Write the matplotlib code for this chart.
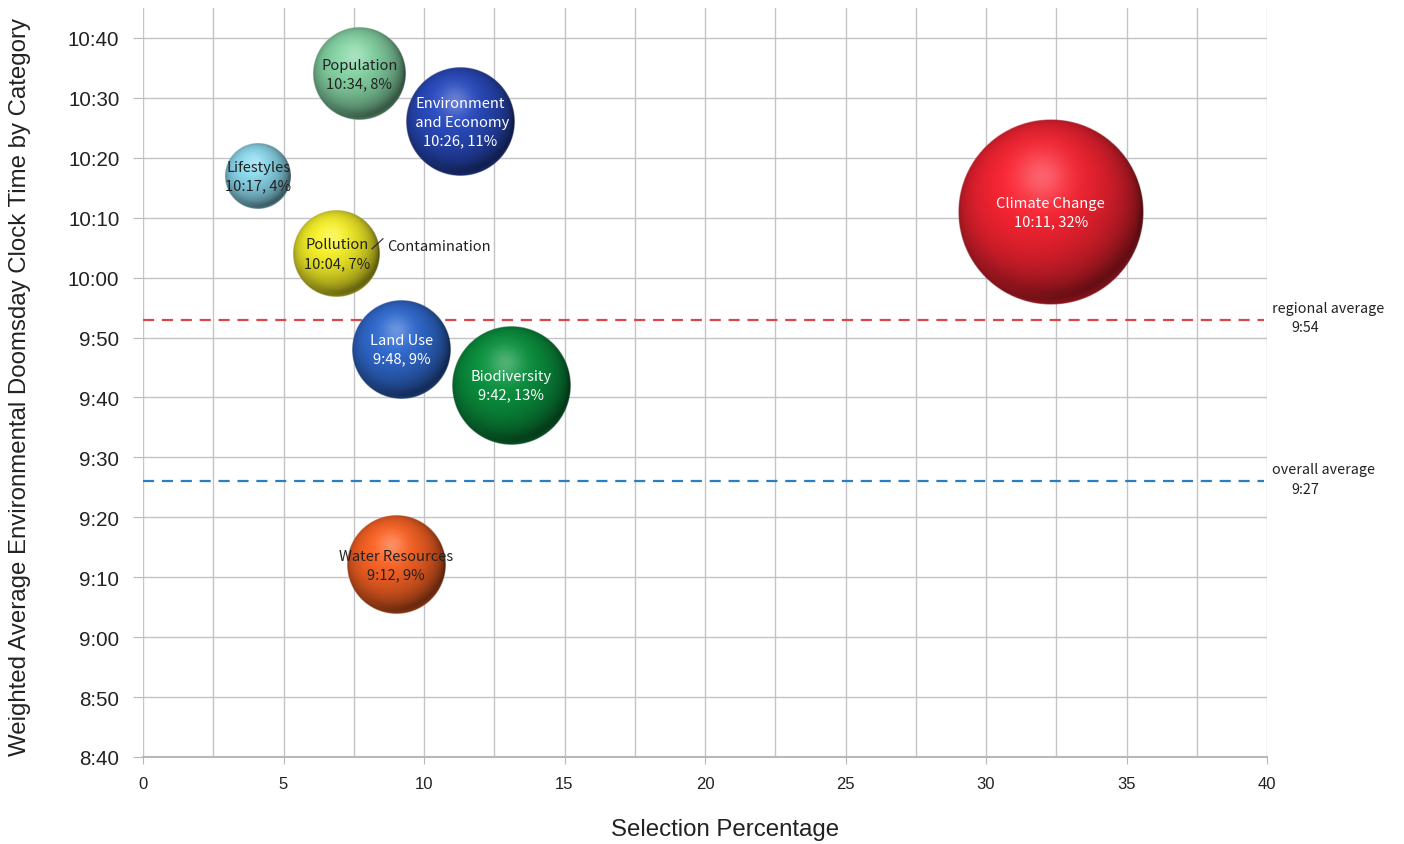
import numpy as np
import matplotlib
matplotlib.use("Agg")
import matplotlib.pyplot as plt
from matplotlib.colors import to_rgb
from matplotlib.ticker import MultipleLocator, FuncFormatter

# data
categories = ["Population", "Environment\n and Economy", "Lifestyles", "Pollution",
              "Land Use", "Biodiversity", "Water Resources", "Climate Change"]
x_pos = [7.7, 11.3, 4.1, 6.9, 9.2, 13.1, 9.0, 32.3]
times = ["10:34", "10:26", "10:17", "10:04", "9:48", "9:42", "9:12", "10:11"]
percent = [8, 11, 4, 7, 9, 13, 9, 32]
colors = ["#80cc9e", "#2848b8", "#86d0e4", "#ece626", "#2e66c8", "#0a8c3c", "#f05e22", "#ee2230"]
text_colors = ["#222222", "white", "#222222", "#222222", "white", "white", "#222222", "white"]

avg_names = ["regional average", "overall average"]
avg_labels = ["9:54", "9:27"]
avg_lines = ["9:53", "9:26"]
avg_colors = ["#d9474a", "#2a7fc2"]


def to_min(t):
    h, m = t.split(":")
    return int(h) * 60 + int(m)


def fmt_time(v, pos):
    v = int(round(v))
    return "%d:%02d" % (v // 60, v % 60)


def sphere(color, n=300):
    u = np.linspace(-1, 1, n)
    X, Y = np.meshgrid(u, u)
    R2 = X**2 + Y**2
    Z = np.sqrt(np.clip(1 - R2, 0, 1))
    L = np.array([-0.2, 0.35, 0.9])
    L = L / np.linalg.norm(L)
    d = np.clip(X * L[0] + Y * L[1] + Z * L[2], 0, 1)
    base = np.array(to_rgb(color))
    shade = 0.35 + 0.72 * d**0.8
    img = base[None, None, :] * np.clip(shade, 0, 1.05)[..., None]
    spec = np.exp(-((X + 0.1)**2 + (Y - 0.38)**2) / 0.08) * 0.28
    img = img + spec[..., None] * (1 - img)
    # faint reflected light along the lower rim
    rim = np.clip(np.sqrt(R2) - 0.86, 0, 1) / 0.14 * np.clip(-Y, 0, 1) * 0.25
    img = img + rim[..., None] * (base - img) * 1.5
    img = np.clip(img, 0, 1)
    alpha = np.clip((1 - np.sqrt(R2)) * n / 2, 0, 1)
    return np.dstack([img, alpha])


plt.rcParams['font.family'] = ['Liberation Sans', 'DejaVu Sans']
jp = ["Noto Sans CJK JP", "DejaVu Sans"]

fig = plt.figure(figsize=(14.04, 8.45), dpi=100)
ax = fig.add_axes([143 / 1404, 87 / 845, 1124 / 1404, 749 / 845])

ymin, ymax = to_min("8:40"), to_min("10:45")
ax.set_xlim(0, 40)
ax.set_ylim(ymin, ymax)

ax.xaxis.set_major_locator(MultipleLocator(5))
ax.xaxis.set_minor_locator(MultipleLocator(2.5))
ax.yaxis.set_major_formatter(FuncFormatter(fmt_time))
ax.set_yticks(np.arange(to_min("8:40"), to_min("10:41"), 10))
ax.grid(True, which="both", axis="x", color="#c4c4c8", lw=1)
ax.grid(True, which="major", axis="y", color="#c4c4c8", lw=1)
ax.set_axisbelow(True)
for s in ["top", "right", "left"]:
    ax.spines[s].set_visible(False)
ax.spines["bottom"].set_color("#b8b8bc")
ax.spines["bottom"].set_linewidth(1.5)
ax.tick_params(axis="y", length=7, color="#b8b8bc", labelsize=14.8, pad=10, labelcolor="#222222")
ax.tick_params(axis="x", length=5, color="#b8b8bc", labelsize=12, pad=9, labelcolor="#222222")
ax.tick_params(axis="x", which="minor", length=0)

ax.set_ylabel("Weighted Average Environmental Doomsday Clock Time by Category",
              fontsize=17.3, color="#222222")
ax.yaxis.set_label_coords(-0.1, 0.495)
ax.set_xlabel("Selection Percentage", fontsize=17.3, color="#222222")
ax.xaxis.set_label_coords(0.518, -0.081)

# average lines
for name, lab, ln, c in zip(avg_names, avg_labels, avg_lines, avg_colors):
    yv = to_min(ln)
    ax.plot([0, 39.9], [yv, yv], ls=(0, (5, 3.5)), color=c, lw=1.6, zorder=2)
    ax.text(40.18, yv + 2.0, name, fontsize=10.3, family=jp,
            color="#222222", va="center", ha="left", clip_on=False)
    ax.text(40.85, yv - 1.3, lab, fontsize=10.3, family=jp,
            color="#222222", va="center", ha="left", clip_on=False)

# bubbles as shaded spheres, area proportional to percentage
inv = ax.transData.inverted()
for i in range(len(categories)):
    yv = to_min(times[i])
    cx, cy = ax.transData.transform((x_pos[i], yv))
    r = 16.4 * np.sqrt(percent[i])
    x0, y0 = inv.transform((cx - r, cy - r))
    x1, y1 = inv.transform((cx + r, cy + r))
    ax.imshow(sphere(colors[i]), extent=[x0, x1, y0, y1], origin="lower",
              aspect="auto", zorder=3, interpolation="bilinear")
    ax.text(x_pos[i], yv, categories[i] + "\n" + times[i] + ", " + str(percent[i]) + "%",
            ha="center", va="center", fontsize=10.6, color=text_colors[i],
            family=jp, linespacing=1.4, zorder=4)

# Contamination note next to Pollution
py = to_min(times[3])
ax.plot([8.15, 8.54], [py + 0.8, py + 2.5], color="#222222", lw=0.8, zorder=4)
ax.text(8.68, py + 1.3, "Contamination", fontsize=10.6, color="#222222",
        family=jp, va="center", ha="left", zorder=4)

ax.set_xlim(0, 40)
ax.set_ylim(ymin, ymax)

fig.savefig("out.png", dpi=100)
